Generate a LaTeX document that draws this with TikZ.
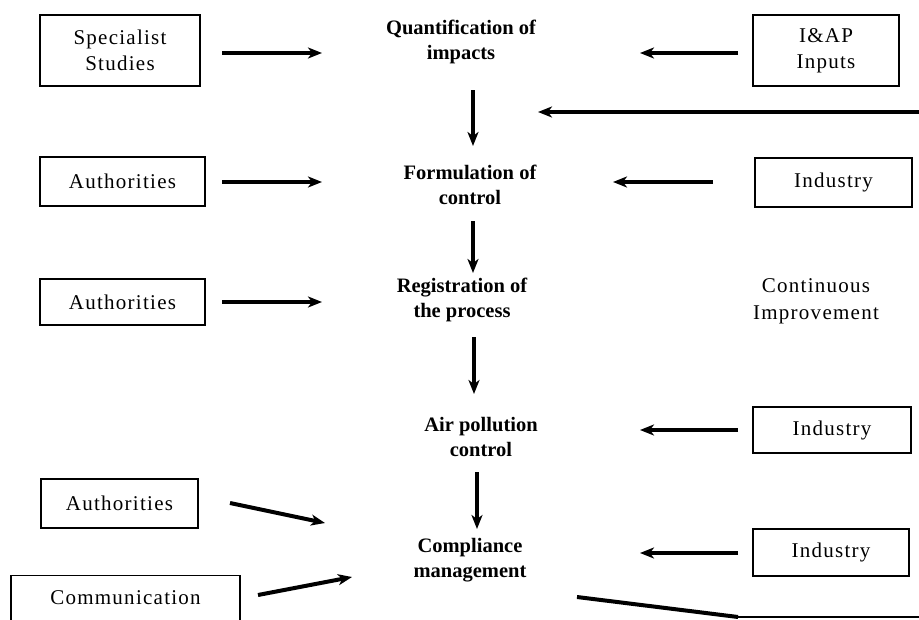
\documentclass[tikz,border=0pt]{standalone}
\usepackage{fontspec}
\setmainfont{Liberation Serif}
\newfontfamily\boxfont[LetterSpace=6]{Liberation Serif}
\usetikzlibrary{arrows.meta}
\begin{document}
\begin{tikzpicture}[x=1pt,y=-1pt,
  box/.style={draw, line width=1.3pt, align=center, font=\boxfont\fontsize{21}{26}\selectfont, inner sep=0pt},
  stage/.style={align=center, font=\bfseries\fontsize{20.5}{25.5}\selectfont, inner sep=0pt},
  note/.style={align=center, font=\boxfont\fontsize{21}{27}\selectfont, inner sep=0pt},
  arr/.style={line width=4pt, -{Stealth[length=14pt,width=11pt,inset=4pt]}},
  thickline/.style={line width=4pt},
]
\useasboundingbox (0,0) rectangle (919,619);
\clip (0,0) rectangle (919,619);

% boxes
\node[box, minimum width=160pt, minimum height=71pt] (spec) at (120,50.5) {Specialist\\Studies};
\node[box, minimum width=146pt, minimum height=71pt] (iap) at (826,50.5) {I\&AP\\Inputs};
\node[box, minimum width=165pt, minimum height=49pt] (auth1) at (122.5,181.5) {Authorities};
\node[box, minimum width=157pt, minimum height=49pt] (ind1) at (833.5,182.5) {Industry};
\node[box, minimum width=165pt, minimum height=46pt] (auth2) at (122.5,302) {Authorities};
\node[box, minimum width=158pt, minimum height=46pt] (ind2) at (832,430) {Industry};
\node[box, minimum width=156pt, minimum height=47pt] (ind3) at (831,552.5) {Industry};
\node[box, minimum width=157pt, minimum height=49pt] (auth3) at (119.5,503.5) {Authorities};
\node[box, minimum width=229pt, minimum height=80pt, anchor=north, text depth=50pt, inner ysep=0pt, text height=28pt] (comm) at (125.5,575) {Communication};

% stages
\node[stage] (q) at (461,42) {Quantification of\\impacts};
\node[stage] (f) at (470,185) {Formulation of\\control};
\node[stage] (r) at (462,300) {Registration of\\the process};
\node[stage] (a) at (481,437) {Air pollution\\control};
\node[stage] (c) at (470,560) {Compliance\\management};
\node[note] (ci) at (816,301) {Continuous\\Improvement};

% coordinates for connector ends
\coordinate (s1) at (222,53);  \coordinate (e1) at (322,53);
\coordinate (s2) at (738,53);  \coordinate (e2) at (640,53);
\coordinate (s3) at (930,112); \coordinate (e3) at (538,112);
\coordinate (s4) at (222,182); \coordinate (e4) at (322,182);
\coordinate (s5) at (713,182); \coordinate (e5) at (613,182);
\coordinate (s6) at (222,302); \coordinate (e6) at (322,302);
\coordinate (s7) at (738,430); \coordinate (e7) at (640,430);
\coordinate (s8) at (738,553); \coordinate (e8) at (640,553);
\coordinate (s9) at (230,503); \coordinate (e9) at (325,523);
\coordinate (s10) at (258,595); \coordinate (e10) at (352,577);
\coordinate (d1s) at (473,90);  \coordinate (d1e) at (473,146);
\coordinate (d2s) at (473,221); \coordinate (d2e) at (473,273);
\coordinate (d3s) at (474,337); \coordinate (d3e) at (474,394);
\coordinate (d4s) at (477,472); \coordinate (d4e) at (477,529);
\coordinate (b1) at (577,597); \coordinate (b2) at (738,617); \coordinate (b3) at (930,617);

% connectors
\draw[arr] (s1) -- (e1);
\draw[arr] (s2) -- (e2);
\draw[arr] (s3) -- (e3);
\draw[arr] (s4) -- (e4);
\draw[arr] (s5) -- (e5);
\draw[arr] (s6) -- (e6);
\draw[arr] (s7) -- (e7);
\draw[arr] (s8) -- (e8);
\draw[arr] (s9) -- (e9);
\draw[arr] (s10) -- (e10);
\draw[arr] (d1s) -- (d1e);
\draw[arr] (d2s) -- (d2e);
\draw[arr] (d3s) -- (d3e);
\draw[arr] (d4s) -- (d4e);
\draw[thickline] (b1) -- (b2);
\draw[line width=2.5pt] (b2) -- (b3);
\end{tikzpicture}
\end{document}
